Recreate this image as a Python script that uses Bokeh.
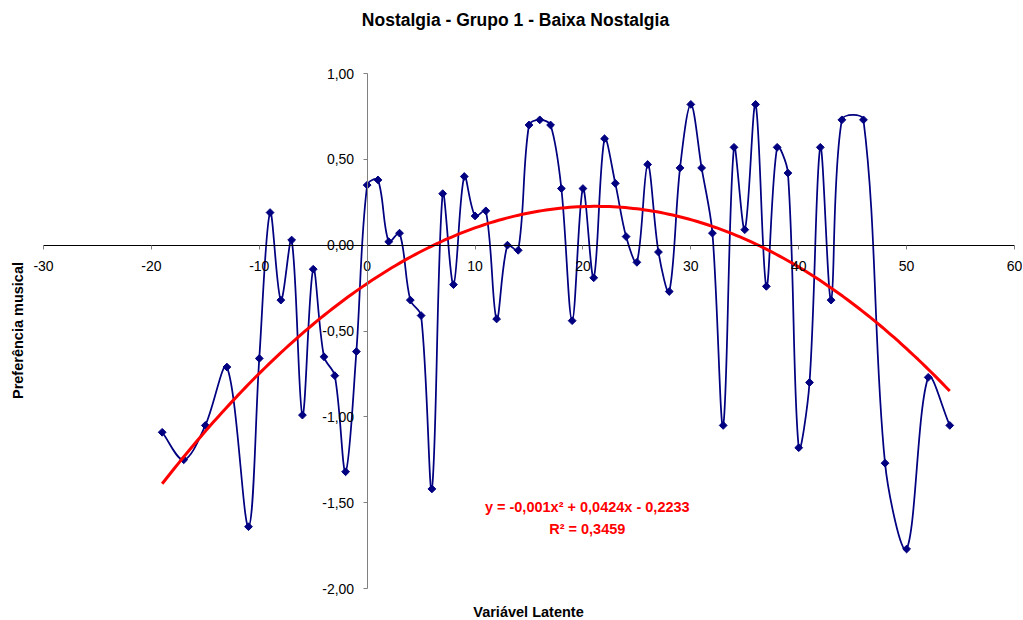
import numpy as np
from bokeh.plotting import figure
from bokeh.models import Range1d, LinearAxis, FixedTicker, CustomJSTickFormatter, Label
from bokeh.embed import file_html
from bokeh.resources import INLINE

# ---------------- data ----------------
TITLE = "Nostalgia - Grupo 1 - Baixa Nostalgia"
X_LABEL = "Variável Latente"
Y_LABEL = "Preferência musical"
EQUATION = "y = -0,001x² + 0,0424x - 0,2233"
R2_TEXT = "R² = 0,3459"

latente = [-19, -17, -15, -13, -11, -10, -9, -8, -7, -6, -5, -4, -3, -2, -1,
           0, 1, 2, 3, 4, 5, 6, 7, 8, 9, 10, 11, 12, 13, 14, 15, 16, 17, 18, 19,
           20, 21, 22, 23, 24, 25, 26, 27, 28, 29, 30, 31, 32, 33, 34, 35, 36, 37,
           38, 39, 40, 41, 42, 43, 44, 46, 48, 50, 52, 54]
preferencia = [-1.09, -1.25, -1.05, -0.71, -1.64, -0.66, 0.19, -0.32, 0.03, -0.99,
               -0.14, -0.65, -0.76, -1.32, -0.62,
               0.35, 0.38, 0.02, 0.07, -0.32, -0.41, -1.42, 0.30, -0.23, 0.40,
               0.17, 0.20, -0.43, 0.00, -0.03, 0.70, 0.73, 0.70, 0.33, -0.44,
               0.33, -0.19, 0.62, 0.36, 0.05, -0.10, 0.47, -0.04, -0.27, 0.45,
               0.82, 0.45, 0.07, -1.05, 0.57, 0.09, 0.82, -0.24, 0.57, 0.42,
               -1.18, -0.80, 0.57, -0.32, 0.73, 0.73, -1.27, -1.77, -0.77, -1.05]

# polynomial trendline coefficients (as printed on the chart)
trend_a = -0.001
trend_b = 0.0424
trend_c = -0.2233

x_ticks = [-30, -20, -10, 0, 10, 20, 30, 40, 50, 60]
y_ticks = [-2.0, -1.5, -1.0, -0.5, 0.0, 0.5, 1.0]

# ---------------- layout ----------------
X0, X1 = -30, 60          # axis extent
Y0, Y1 = -2.0, 1.0
W, H = 1022, 619          # canvas
BL, BR, BT, BB = 43, 8, 73, 31   # space around the axis box (canvas px)
AW, AH = W - BL - BR, H - BT - BB
sx = AW / (X1 - X0)
sy = AH / (Y1 - Y0)

p = figure(width=W, height=H, output_backend="svg", toolbar_location=None,
           x_range=Range1d(X0 - BL / sx, X1 + BR / sx),
           y_range=Range1d(Y0 - BB / sy, Y1 + BT / sy),
           x_axis_location=None, y_axis_location=None,
           min_border_left=0, min_border_right=0,
           min_border_top=0, min_border_bottom=0)
for g in list(p.center):
    g.visible = False
p.outline_line_color = None
p.background_fill_color = "white"
p.border_fill_color = "white"

FONT = "Liberation Sans"

xaxis = LinearAxis(fixed_location=0, bounds=(X0, X1), ticker=FixedTicker(ticks=x_ticks),
                   formatter=CustomJSTickFormatter(code="return tick.toFixed(0);"))
xaxis.axis_line_color = "black"
xaxis.major_tick_in = 0
xaxis.major_tick_out = 4
xaxis.major_tick_line_color = "#808080"
xaxis.minor_tick_line_color = None
xaxis.major_label_text_font = FONT
xaxis.major_label_text_font_size = "14px"
xaxis.major_label_text_color = "black"
xaxis.major_label_standoff = 12
p.add_layout(xaxis, "below")

yaxis = LinearAxis(fixed_location=0, bounds=(Y0, Y1), ticker=FixedTicker(ticks=y_ticks),
                   formatter=CustomJSTickFormatter(code="return tick.toFixed(2).replace('.', ',');"))
yaxis.axis_line_color = "#808080"
yaxis.major_tick_in = 0
yaxis.major_tick_out = 4
yaxis.major_tick_line_color = "#808080"
yaxis.minor_tick_line_color = None
yaxis.major_label_text_font = FONT
yaxis.major_label_text_font_size = "14px"
yaxis.major_label_text_color = "black"
yaxis.major_label_standoff = 9
p.add_layout(yaxis, "left")

# ---------------- smoothed line (Excel-style Bezier) ----------------
P = np.column_stack([np.array(latente, float) * sx, np.array(preferencia, float) * sy])
n = len(P)
seg = {k: [] for k in ["x0", "y0", "x1", "y1", "cx0", "cy0", "cx1", "cy1"]}
for i in range(n - 1):
    p0 = P[i - 1] if i > 0 else P[i]
    p1 = P[i]
    p2 = P[i + 1]
    p3 = P[i + 2] if i + 2 < n else P[i + 1]
    d01 = np.hypot(*(p1 - p0))
    d12 = np.hypot(*(p2 - p1))
    d23 = np.hypot(*(p3 - p2))
    f1 = d12 / (d01 + d12) if (d01 + d12) > 0 else 0.0
    f2 = d12 / (d12 + d23) if (d12 + d23) > 0 else 0.0
    c1 = p1 + (p2 - p0) * f1 / 3.0
    c2 = p2 - (p3 - p1) * f2 / 3.0
    seg["x0"].append(p1[0] / sx); seg["y0"].append(p1[1] / sy)
    seg["x1"].append(p2[0] / sx); seg["y1"].append(p2[1] / sy)
    seg["cx0"].append(c1[0] / sx); seg["cy0"].append(c1[1] / sy)
    seg["cx1"].append(c2[0] / sx); seg["cy1"].append(c2[1] / sy)

p.bezier(x0=seg["x0"], y0=seg["y0"], x1=seg["x1"], y1=seg["y1"],
         cx0=seg["cx0"], cy0=seg["cy0"], cx1=seg["cx1"], cy1=seg["cy1"],
         line_color="#000080", line_width=1.75)
p.scatter(latente, preferencia, marker="square", angle=np.pi / 4, size=5.5,
          fill_color="#000080", line_color="#000080")

# ---------------- trendline ----------------
tx = np.linspace(min(latente), max(latente), 200)
ty = trend_a * tx ** 2 + trend_b * tx + trend_c
p.line(tx, ty, line_color="#FF0000", line_width=3)

# ---------------- texts ----------------
def px_to_x(page_x):
    return X0 + (page_x - BL) / sx

def py_to_y(page_y):
    return Y1 - (page_y - BT) / sy

p.add_layout(Label(x=px_to_x(515), y=py_to_y(19), text=TITLE, text_font=FONT,
                   text_font_size="17.5px", text_font_style="bold",
                   text_align="center", text_baseline="middle", text_color="black"))
p.add_layout(Label(x=px_to_x(17.5), y=py_to_y(330), text=Y_LABEL, text_font=FONT,
                   text_font_size="14.5px", text_font_style="bold", angle=np.pi / 2,
                   text_align="center", text_baseline="middle", text_color="black"))
p.add_layout(Label(x=px_to_x(528), y=py_to_y(611), text=X_LABEL, text_font=FONT,
                   text_font_size="14.5px", text_font_style="bold",
                   text_align="center", text_baseline="middle", text_color="black"))
p.add_layout(Label(x=20.4, y=-1.527, text=EQUATION, text_font=FONT,
                   text_font_size="14.5px", text_font_style="bold",
                   text_align="center", text_baseline="middle", text_color="#FF0000"))
p.add_layout(Label(x=20.4, y=-1.655, text=R2_TEXT, text_font=FONT,
                   text_font_size="14.5px", text_font_style="bold",
                   text_align="center", text_baseline="middle", text_color="#FF0000"))

open("out.html", "w").write(file_html(p, INLINE))
